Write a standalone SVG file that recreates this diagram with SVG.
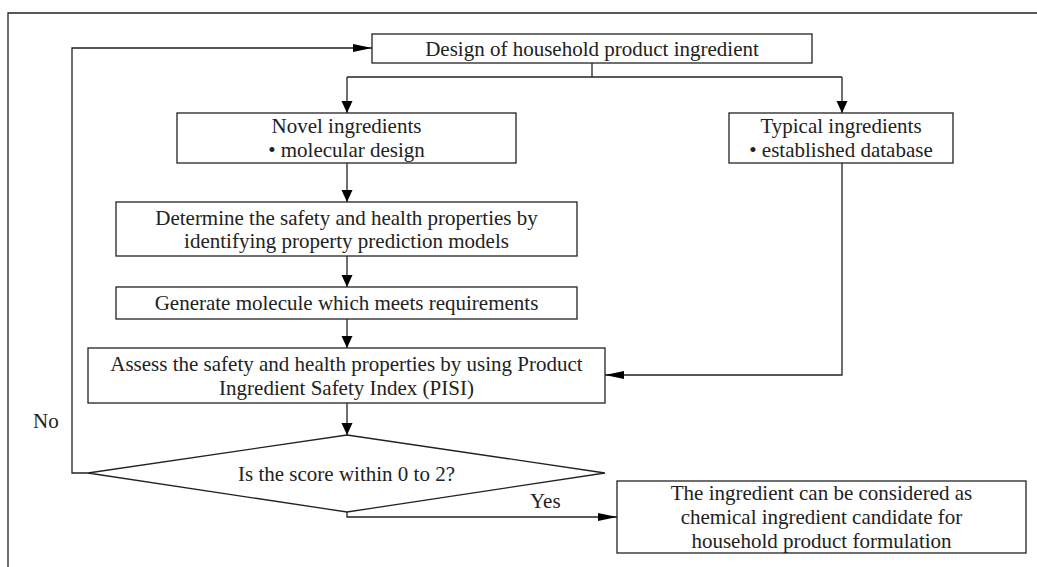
<svg xmlns="http://www.w3.org/2000/svg" width="1037" height="567" viewBox="0 0 1037 567">
<style>
.box{fill:#fff;stroke:#222;stroke-width:1.3}
.ln{fill:none;stroke:#222;stroke-width:1.3}
text{font-family:"Liberation Serif","Times New Roman",serif;font-size:21px;fill:#222;text-anchor:middle}
.lbl{text-anchor:start}
</style>
<defs>
<marker id="av" markerUnits="userSpaceOnUse" markerWidth="12" markerHeight="12" refX="12" refY="6" orient="auto"><path d="M0,0.5 L12,6 L0,11.5 z" fill="#000"/></marker>
<marker id="ah" markerUnits="userSpaceOnUse" markerWidth="19" markerHeight="9" refX="19" refY="4.5" orient="auto"><path d="M0,0.5 L19,4.5 L0,8.5 z" fill="#000"/></marker>
</defs>
<path class="ln" d="M8,567 V13 H1037"/>
<g id="connectors">
<path class="ln" d="M592,63 V77"/>
<path class="ln" d="M347,77 H842"/>
<path class="ln" d="M347,77 V113" marker-end="url(#av)"/>
<path class="ln" d="M842,77 V113" marker-end="url(#av)"/>
<path class="ln" d="M347,163 V202" marker-end="url(#av)"/>
<path class="ln" d="M347,256 V287" marker-end="url(#av)"/>
<path class="ln" d="M347,319 V348" marker-end="url(#av)"/>
<path class="ln" d="M842,163 V375 H605" marker-end="url(#ah)"/>
<path class="ln" d="M347,403 V435" marker-end="url(#av)"/>
<path class="ln" d="M88,473 H72 V48 H372" marker-end="url(#ah)"/>
<path class="ln" d="M347,512 V517 H617" marker-end="url(#ah)"/>
<text class="lbl" x="33" y="428">No</text>
<text class="lbl" x="530" y="508">Yes</text>
</g>
<g id="design">
<rect class="box" x="372" y="34" width="440" height="29"/>
<text x="592" y="56">Design of household product ingredient</text>
</g>
<g id="novel">
<rect class="box" x="177" y="113" width="339" height="50"/>
<text x="346.5" y="133">Novel ingredients</text>
<text x="346.5" y="157">• molecular design</text>
</g>
<g id="typical">
<rect class="box" x="729" y="113" width="224" height="50"/>
<text x="841" y="133">Typical ingredients</text>
<text x="841" y="157">• established database</text>
</g>
<g id="determine">
<rect class="box" x="116" y="202" width="461" height="54"/>
<text x="346.5" y="225">Determine the safety and health properties by</text>
<text x="346.5" y="248">identifying property prediction models</text>
</g>
<g id="generate">
<rect class="box" x="116" y="287" width="461" height="32"/>
<text x="346.5" y="310">Generate molecule which meets requirements</text>
</g>
<g id="assess">
<rect class="box" x="88" y="348" width="517" height="55"/>
<text x="346.5" y="371">Assess the safety and health properties by using Product</text>
<text x="346.5" y="395">Ingredient Safety Index (PISI)</text>
</g>
<g id="decision">
<polygon class="box" points="347,435 605,473 347,512 88,473"/>
<text x="346.5" y="481">Is the score within 0 to 2?</text>
</g>
<g id="result">
<rect class="box" x="617" y="481" width="409" height="72"/>
<text x="821.5" y="500">The ingredient can be considered as</text>
<text x="821.5" y="524">chemical ingredient candidate for</text>
<text x="821.5" y="548">household product formulation</text>
</g>
</svg>
